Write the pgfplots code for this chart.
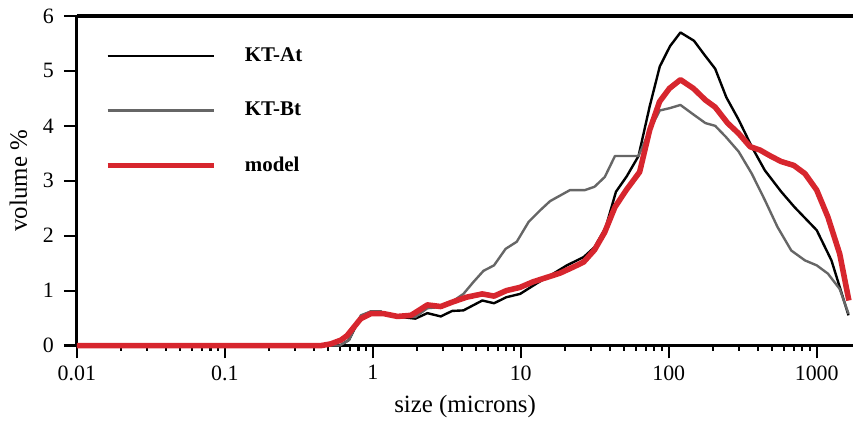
\documentclass[border=0pt]{standalone}
\usepackage{fontspec}
\setmainfont{Liberation Serif}
\usepackage{pgfplots}
\pgfplotsset{compat=1.18}
\definecolor{cgray}{HTML}{666666}
\definecolor{cred}{HTML}{D7262E}

\begin{document}
\begin{tikzpicture}
\begin{axis}[
  xmode=log,
  width=390pt, height=165.5pt, scale only axis,
  xmin=0.01, xmax=1770, ymin=0, ymax=6,
  axis lines*=left,
  axis line style={-, line width=1.6pt},
  clip=false,
  tick align=outside, tick pos=left,
  major tick length=6.5pt, minor tick length=2.5pt,
  every tick/.style={black, line width=1.1pt},
  xtick={0.01,0.1,1,10,100,1000},
  xticklabels={0.01,0.1,1,10,100,1000},
  ytick={0,1,2,3,4,5,6},
  /pgf/number format/assume math mode=true,
  tick label style={font=\fontsize{11}{13}\selectfont},
  label style={font=\fontsize{12.5}{15}\selectfont},
  yticklabel shift=1.5pt,
  ylabel shift=1pt,
  xlabel shift=0.5pt,
  xlabel={size (microns)},
  ylabel={volume \%},
  legend style={draw=none, fill=none, at={(axis description cs:0.028,0.93)}, anchor=north west,
    font=\fontsize{10.5}{12.5}\selectfont\bfseries, row sep=15pt,
    nodes={inner xsep=10.5pt}},
  legend cell align={left},
  legend image code/.code={\draw[#1] (0pt,0pt) -- (53.5pt,0pt); \path (57pt,0pt);},
  every axis plot/.append style={line join=round},
]
\draw[line width=1.6pt] (rel axis cs:0,1) -- (rel axis cs:1,1);

\addplot[black, line width=1.2pt] coordinates {
(0.01,0) (0.6,0) (0.69,0.10) (0.83,0.53) (0.97,0.62) (1.13,0.62) (1.29,0.55)
(1.54,0.52) (1.94,0.49) (2.34,0.59) (2.88,0.53) (3.44,0.63) (4.1,0.64) (5.5,0.82)
(6.6,0.77) (8.0,0.88) (9.9,0.94) (12.8,1.13) (16.6,1.31) (20.5,1.46) (26.6,1.61)
(31.5,1.79) (37.5,2.15) (44,2.80) (52,3.08) (62.5,3.45) (74.3,4.35) (87,5.08)
(102,5.45) (120,5.70) (148,5.55) (177,5.27) (206,5.04) (245,4.52) (297,4.11)
(364,3.62) (446,3.19) (576,2.80) (708,2.52) (1000,2.10) (1258,1.55) (1640,0.55)
};
\addlegendentry{KT-At}

\addplot[cgray, line width=1.2pt] coordinates {
(0.01,0) (0.6,0) (0.69,0.10) (0.83,0.55) (0.97,0.62) (1.13,0.62) (1.29,0.55)
(1.54,0.53) (1.94,0.52) (2.34,0.68) (2.88,0.70) (3.44,0.80) (4.1,0.94) (4.8,1.16)
(5.6,1.36) (6.6,1.46) (7.9,1.76) (9.4,1.89) (11.3,2.25) (13.5,2.46) (15.8,2.63)
(21.5,2.83) (27.1,2.83) (31.5,2.89) (37,3.07) (43.3,3.45) (62.5,3.45) (74.3,3.92)
(87,4.28) (101,4.32) (120,4.38) (148,4.20) (177,4.05) (206,4.00) (243,3.80)
(297,3.53) (364,3.13) (446,2.65) (543,2.16) (673,1.73) (833,1.55) (1000,1.46)
(1190,1.31) (1430,1.03) (1640,0.58)
};
\addlegendentry{KT-Bt}

\addplot[cred, line width=2.8pt] coordinates {
(0.01,0) (0.45,0) (0.52,0.03) (0.61,0.10) (0.67,0.18) (0.83,0.49) (0.97,0.58)
(1.19,0.58) (1.47,0.53) (1.81,0.55) (1.94,0.60) (2.34,0.74) (2.88,0.71) (3.44,0.79)
(4.3,0.88) (5.5,0.94) (6.6,0.90) (8.0,1.00) (9.9,1.06) (12.1,1.16) (15.8,1.26)
(18.5,1.32) (22.7,1.43) (26.6,1.52) (31.5,1.74) (36.9,2.06) (43.3,2.52) (51.6,2.83)
(63.6,3.16) (74.3,3.92) (86.7,4.44) (101,4.68) (120,4.84) (147,4.68) (177,4.47)
(206,4.34) (250,4.05) (297,3.86) (355,3.62) (413,3.56) (495,3.44) (576,3.35)
(700,3.28) (833,3.13) (1000,2.83) (1190,2.34) (1430,1.67) (1650,0.82)
};
\addlegendentry{model}
\end{axis}
\path (current bounding box.west) ++(-1.5pt,0);
\path (current bounding box.north) ++(0,1pt);
\end{tikzpicture}
\end{document}
